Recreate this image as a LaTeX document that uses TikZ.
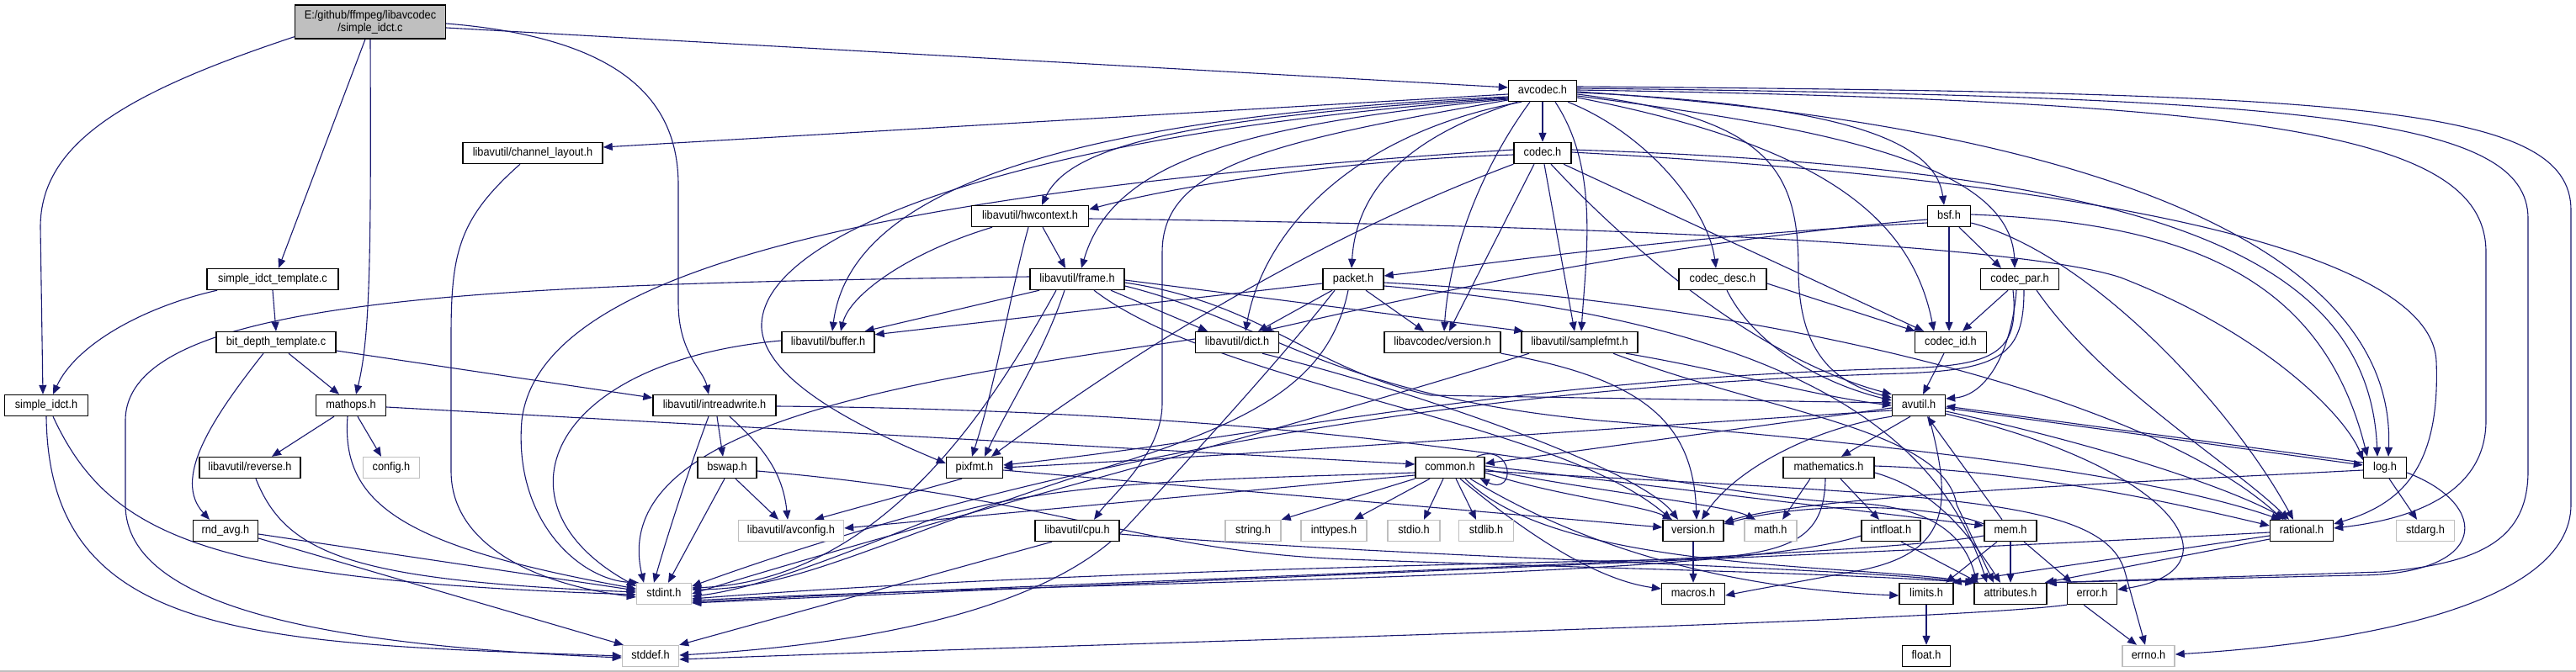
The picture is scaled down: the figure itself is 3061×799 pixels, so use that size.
\documentclass[tikz,border=0pt]{standalone}
\usepackage{fontspec}
\newfontfamily\dfont{Liberation Sans}[FakeStretch=0.91]
\usetikzlibrary{arrows.meta}
\definecolor{edgeblue}{HTML}{191970}
\definecolor{lgray}{HTML}{BFBFBF}
\pgfdeclarelayer{bgl}
\pgfdeclarelayer{edgel}
\pgfsetlayers{bgl,edgel,main}
\begin{document}
\begin{tikzpicture}[x=1pt,y=-1pt,
  nd/.style={draw=black, line width=1.4pt, fill=white, minimum height=25pt, inner sep=0pt,
    font=\dfont\fontsize{14}{16}\selectfont, text height=10pt, text depth=3pt},
  gn/.style={nd, draw=lgray},
  e/.style={draw=edgeblue, line width=1.1pt, -{Triangle[length=11pt,width=9pt]}},
]
\useasboundingbox (0,0) rectangle (3061,799);
\begin{pgfonlayer}{bgl}
\fill[white] (0,0) rectangle (3061,799);
\draw[lgray, line width=1.5pt] (0,798) -- (3061,798);
\end{pgfonlayer}

% ---------------- nodes ----------------
\node[draw=black, line width=1.4pt, fill=lgray, minimum width=179pt, minimum height=40pt, inner sep=0pt,
  align=center, font=\dfont\fontsize{14}{15}\selectfont] (sidc) at (440,26) {E:/github/ffmpeg/libavcodec\\/simple\_idct.c};
\node[nd, minimum width=81pt] (avcodec) at (1833,108) {avcodec.h};
\node[nd, minimum width=166pt] (chlay) at (633,182) {libavutil/channel\_layout.h};
\node[nd, minimum width=68pt] (codec) at (1833,182) {codec.h};
\node[nd, minimum width=139pt] (hwctx) at (1224,257) {libavutil/hwcontext.h};
\node[nd, minimum width=51pt] (bsf) at (2316,257) {bsf.h};
\node[nd, minimum width=156pt] (sitpl) at (324,332) {simple\_idct\_template.c};
\node[nd, minimum width=112pt] (frame) at (1280,332) {libavutil/frame.h};
\node[nd, minimum width=72pt] (packet) at (1608,332) {packet.h};
\node[nd, minimum width=104pt] (cdesc) at (2047,332) {codec\_desc.h};
\node[nd, minimum width=93pt] (cpar) at (2400,332) {codec\_par.h};
\node[nd, minimum width=142pt] (bdt) at (328,407) {bit\_depth\_template.c};
\node[nd, minimum width=110pt] (buffer) at (984,407) {libavutil/buffer.h};
\node[nd, minimum width=99pt] (dict) at (1470,407) {libavutil/dict.h};
\node[nd, minimum width=138pt] (lcver) at (1714,407) {libavcodec/version.h};
\node[nd, minimum width=138pt] (sfmt) at (1877,407) {libavutil/samplefmt.h};
\node[nd, minimum width=85pt] (cid) at (2318,407) {codec\_id.h};
\node[nd, minimum width=99pt] (sih) at (55,482) {simple\_idct.h};
\node[nd, minimum width=83pt] (mathops) at (417,482) {mathops.h};
\node[nd, minimum width=146pt] (irw) at (849,482) {libavutil/intreadwrite.h};
\node[nd, minimum width=63pt] (avutil) at (2280,482) {avutil.h};
\node[nd, minimum width=120pt] (reverse) at (297,556) {libavutil/reverse.h};
\node[gn, minimum width=67pt] (config) at (465,556) {config.h};
\node[nd, minimum width=70pt] (bswap) at (864,556) {bswap.h};
\node[nd, minimum width=67pt] (pixfmt) at (1158,556) {pixfmt.h};
\node[nd, minimum width=82pt] (common) at (1723,556) {common.h};
\node[nd, minimum width=108pt] (mathem) at (2173,556) {mathematics.h};
\node[nd, minimum width=51pt] (log) at (2834,556) {log.h};
\node[nd, minimum width=77pt] (rnd) at (268,631) {rnd\_avg.h};
\node[gn, minimum width=125pt] (avconfig) at (940,631) {libavutil/avconfig.h};
\node[nd, minimum width=100pt] (cpu) at (1280,631) {libavutil/cpu.h};
\node[gn, minimum width=66pt] (string) at (1489,631) {string.h};
\node[gn, minimum width=78pt] (inttypes) at (1585,631) {inttypes.h};
\node[gn, minimum width=62pt] (stdio) at (1680,631) {stdio.h};
\node[gn, minimum width=65pt] (stdlib) at (1766,631) {stdlib.h};
\node[nd, minimum width=72pt] (version) at (2012,631) {version.h};
\node[gn, minimum width=62pt] (math) at (2104,631) {math.h};
\node[nd, minimum width=70pt] (intfloat) at (2247,631) {intfloat.h};
\node[nd, minimum width=62pt] (mem) at (2389,631) {mem.h};
\node[nd, minimum width=75pt] (rational) at (2735,631) {rational.h};
\node[gn, minimum width=69pt] (stdarg) at (2882,631) {stdarg.h};
\node[gn, minimum width=65pt] (stdint) at (789,706) {stdint.h};
\node[nd, minimum width=75pt] (macros) at (2012,706) {macros.h};
\node[nd, minimum width=64pt] (limits) at (2289,706) {limits.h};
\node[nd, minimum width=86pt] (attrib) at (2389,706) {attributes.h};
\node[nd, minimum width=59pt] (error) at (2486,706) {error.h};
\node[gn, minimum width=67pt] (stddef) at (773,780) {stddef.h};
\node[nd, minimum width=57pt] (float) at (2289,780) {float.h};
\node[gn, minimum width=62pt] (errno) at (2553,780) {errno.h};

% ---------------- edges ----------------
\begin{pgfonlayer}{edgel}
% simple_idct.c
\draw[e] ([yshift=-7pt]sidc.east) -- ([yshift=4pt]avcodec.west);
\draw[e] ([yshift=3pt]sidc.south west) .. controls (150,110) and (48,170) .. (48,270) -- ([xshift=-4pt]sih.north);
\draw[e] ([xshift=-6pt]sidc.south) -- ([xshift=7pt]sitpl.north);
\draw[e] (sidc.south) .. controls (441,300) and (440,400) .. ([xshift=6pt]mathops.north);
\draw[e] ([yshift=-2pt]sidc.east) .. controls (740,45) and (806,120) .. (806,220) -- (806,360) .. controls (806,420) and (836,440) .. ([xshift=-7pt]irw.north);
% simple_idct_template.c
\draw[e] ([xshift=-66pt]sitpl.south) .. controls (170,365) and (90,410) .. ([xshift=8pt]sih.north);
\draw[e] (sitpl.south) -- (bdt.north);
% bit_depth_template.c
\draw[e] ([xshift=15pt]bdt.south) -- ([xshift=-14pt]mathops.north);
\draw[e] ([xshift=-15pt]bdt.south) .. controls (250,500) and (205,570) .. ([xshift=-19pt]rnd.north);
\draw[e] ([yshift=-10pt]bdt.east) -- ([yshift=9pt]irw.west);
% simple_idct.h
\draw[e] ([xshift=8pt]sih.south) .. controls (130,640) and (250,690) .. ([yshift=-1pt]stdint.west);
\draw[e] (sih.south) .. controls (58,760) and (300,765) .. (stddef.west);
% mathops.h
\draw[e] ([xshift=-20pt]mathops.south) -- ([xshift=26pt]reverse.north);
\draw[e] ([xshift=8pt]mathops.south) -- ([xshift=-12pt]config.north);
\draw[e] ([xshift=-4pt]mathops.south) .. controls (405,600) and (480,650) .. ([yshift=6pt]stdint.west);
\draw[e] ([yshift=-2pt]mathops.east) -- ([yshift=4pt]common.west);
% reverse.h, rnd_avg.h
\draw[e] ([xshift=7pt]reverse.south) .. controls (340,660) and (420,690) .. ([yshift=2pt]stdint.west);
\draw[e] ([yshift=-4pt]rnd.east) -- ([yshift=4pt]stdint.west);
\draw[e] ([yshift=-9pt]rnd.east) -- ([xshift=2pt]stddef.north west);
% intreadwrite.h
\draw[e] ([xshift=-7pt]irw.south) .. controls (818,560) and (795,630) .. ([xshift=-12pt]stdint.north);
\draw[e] ([xshift=3pt]irw.south) -- ([xshift=-5pt]bswap.north);
\draw[e] ([xshift=18pt]irw.south) .. controls (905,530) and (930,560) .. ([xshift=-4pt]avconfig.north);
\draw[e] ([yshift=-1pt]irw.east) .. controls (1700,490) and (2000,590) .. (2200,598) .. controls (2300,602) and (2335,640) .. ([xshift=4pt]attrib.north west);
% bswap.h
\draw[e] ([xshift=-3pt]bswap.south) -- ([xshift=5pt]stdint.north);
\draw[e] ([xshift=10pt]bswap.south) -- ([xshift=-15pt]avconfig.north);
\draw[e] ([yshift=-4pt]bswap.east) .. controls (1250,590) and (1350,655) .. (1600,665) .. controls (1900,676) and (2150,680) .. ([xshift=1pt]attrib.north west);
% pixfmt.h
\draw[e] ([xshift=-15pt]pixfmt.south) -- ([xshift=28pt]avconfig.north);
\draw[e] ([yshift=-3pt]pixfmt.east) -- ([yshift=4pt]version.west);
% cpu.h
\draw[e] ([xshift=-30pt]cpu.south) -- (stddef.north east);
\draw[e] ([yshift=-4pt]cpu.east) .. controls (1700,665) and (2150,672) .. ([xshift=1pt]attrib.north west);
% buffer.h, dict.h, channel_layout.h
\draw[e] ([yshift=2pt]buffer.west) .. controls (650,430) and (580,600) .. ([yshift=9pt]stdint.west);
\draw[e] ([yshift=4pt]dict.west) .. controls (1100,450) and (720,500) .. ([xshift=-24pt]stdint.north);
\draw[e] ([xshift=30pt]dict.south) .. controls (1700,470) and (1950,560) .. ([xshift=-18pt]version.north);
\draw[e] ([xshift=-15pt]chlay.south) .. controls (545,260) and (536,300) .. (536,400) -- (536,560) .. controls (536,650) and (640,695) .. ([yshift=-4pt]stdint.west);
% hwcontext.h
\draw[e] ([xshift=-45pt]hwctx.south) .. controls (1080,300) and (1010,350) .. ([xshift=15pt]buffer.north);
\draw[e] ([xshift=15pt]hwctx.south) -- ([xshift=-14pt]frame.north);
\draw[e] ([xshift=-2pt]hwctx.south) .. controls (1200,350) and (1185,450) .. ([xshift=-3pt]pixfmt.north);
\draw[e] ([yshift=-3pt]hwctx.east) .. controls (1900,268) and (2400,290) .. (2520,330) .. controls (2700,400) and (2790,500) .. ([yshift=9pt]log.west);
% frame.h
\draw[e] ([yshift=3pt]frame.west) .. controls (600,338) and (149,350) .. (149,500) -- (149,600) .. controls (149,725) and (400,768) .. ([yshift=-2pt]stddef.west);
\draw[e] ([xshift=-25pt]frame.south) .. controls (1180,480) and (1050,690) .. ([yshift=7pt]stdint.east);
\draw[e] ([xshift=-45pt]frame.south) -- ([xshift=-12pt]buffer.north east);
\draw[e] ([xshift=40pt]frame.south) -- ([xshift=-35pt]dict.north);
\draw[e] ([yshift=-4pt]frame.east) .. controls (1500,360) and (1560,440) .. (1700,470) -- ([yshift=3pt]avutil.west);
\draw[e] ([yshift=-8pt]frame.east) .. controls (1500,380) and (1580,470) .. (1900,500) .. controls (2400,540) and (2600,580) .. ([xshift=-25pt]rational.north);
\draw[e] ([yshift=-1pt]frame.east) -- ([xshift=3pt]sfmt.north west);
\draw[e] ([xshift=-15pt]frame.south) .. controls (1240,420) and (1200,480) .. ([xshift=12pt]pixfmt.north);
\draw[e] ([xshift=20pt]frame.south) .. controls (1450,460) and (1850,500) .. ([xshift=-26pt]version.north);
% packet.h
\draw[e] ([xshift=-22pt]packet.south) .. controls (1520,430) and (1400,560) .. (1340,625) .. controls (1250,720) and (1050,765) .. ([yshift=1pt]stddef.east);
\draw[e] ([xshift=-6pt]packet.south) .. controls (1580,450) and (1500,500) .. (1300,560) .. controls (1050,640) and (950,700) .. ([yshift=5pt]stdint.east);
\draw[e] ([yshift=-5pt]packet.west) -- ([yshift=-4pt]buffer.north east);
\draw[e] ([xshift=-25pt]packet.south) -- ([xshift=25pt]dict.north);
\draw[e] ([yshift=-4pt]packet.east) .. controls (2100,360) and (2550,470) .. ([xshift=-22pt]rational.north);
\draw[e] ([yshift=-8pt]packet.east) .. controls (2100,380) and (2300,500) .. ([xshift=-28pt]attrib.north);
\draw[e] ([xshift=15pt]packet.south) -- ([xshift=-22pt]lcver.north);
% codec_desc.h, codec_par.h, codec_id.h
\draw[e] ([xshift=5pt]cdesc.south) .. controls (2090,420) and (2180,460) .. ([yshift=6pt]avutil.west);
\draw[e] ([yshift=-5pt]cdesc.east) -- ([xshift=1pt]cid.north west);
\draw[e] ([xshift=-14pt]cpar.south) -- ([xshift=14pt]cid.north);
\draw[e] ([xshift=-4pt]cpar.south) .. controls (2390,420) and (2360,470) .. ([yshift=8pt]avutil.east);
\draw[e] ([xshift=5pt]cpar.south) .. controls (2405,420) and (2380,440) .. (2260,444) .. controls (1700,460) and (1200,560) .. ([yshift=9pt]stdint.east);
\draw[e] ([xshift=20pt]cpar.south) .. controls (2500,460) and (2650,550) .. ([xshift=-15pt]rational.north);
\draw[e] ([xshift=-8pt]cpar.south) .. controls (2400,420) and (2370,435) .. (2260,438) .. controls (1800,450) and (1500,520) .. ([yshift=3pt]pixfmt.east);
\draw[e] ([xshift=-8pt]cid.south) -- ([xshift=5pt]avutil.north);
% libavcodec/version.h
\draw[e] (lcver.south east) .. controls (1950,450) and (2012,500) .. ([xshift=4pt]version.north);
% samplefmt.h
\draw[e] ([xshift=-60pt]sfmt.south) .. controls (1500,520) and (1100,620) .. (stdint.east);
\draw[e] ([xshift=55pt]sfmt.south) .. controls (2050,440) and (2150,470) .. (avutil.west);
\draw[e] ([xshift=40pt]sfmt.south) .. controls (2100,490) and (2310,510) .. (2325,600) -- ([xshift=-20pt]attrib.north);
% avutil.h
\draw[e] ([yshift=-3pt]avutil.west) -- ([yshift=5pt]common.east);
\draw[e] ([yshift=-10pt]avutil.east) .. controls (2600,560) and (2660,680) .. ([yshift=5pt]error.east);
\draw[e] ([yshift=-7pt]avutil.east) .. controls (2500,530) and (2650,580) .. ([xshift=-18pt]rational.north);
\draw[e] (avutil.south west) .. controls (2150,510) and (2060,560) .. ([xshift=10pt]version.north);
\draw[e] ([xshift=12pt]avutil.south) .. controls (2320,600) and (2320,660) .. (2200,680) .. controls (2120,695) and (2090,700) .. ([yshift=-2pt]macros.east);
\draw[e] ([xshift=-10pt]avutil.south) -- ([xshift=15pt]mathem.north);
\draw[e] ([yshift=-3pt]avutil.east) -- ([yshift=3pt]log.west);
\draw[e] ([yshift=6pt]log.west) -- ([yshift=-1pt]avutil.east);
\draw[e] ([yshift=-6pt]avutil.west) .. controls (1900,510) and (1500,540) .. (pixfmt.east);
% common.h
\draw[e] ([xshift=-10pt]common.north east) .. controls (1798,525) and (1803,590) .. ([xshift=-6pt]common.south east);
\draw[e] (common.south west) -- (string.north east);
\draw[e] ([xshift=-24pt]common.south) -- ([xshift=24pt]inttypes.north);
\draw[e] ([xshift=-8pt]common.south) -- ([xshift=12pt]stdio.north);
\draw[e] ([xshift=7pt]common.south) -- ([xshift=-12pt]stdlib.north);
\draw[e] ([yshift=-6pt]common.west) .. controls (1450,570) and (1250,570) .. (1100,620) .. controls (1000,660) and (900,700) .. ([yshift=-3pt]stdint.east);
\draw[e] ([yshift=-9pt]common.west) -- ([yshift=3pt]avconfig.east);
\draw[e] ([yshift=-2pt]common.east) .. controls (1900,585) and (2050,600) .. ([xshift=-18pt]math.north);
\draw[e] ([yshift=-6pt]common.east) .. controls (1850,590) and (1950,600) .. ([xshift=-25pt]version.north);
\draw[e] ([yshift=2pt]common.east) -- ([yshift=6pt]mem.west);
\draw[e] ([xshift=24pt]common.south) .. controls (1880,650) and (2050,700) .. ([yshift=-2pt]limits.west);
\draw[e] ([xshift=18pt]common.south) .. controls (1850,680) and (2200,670) .. ([xshift=3pt]attrib.north west);
\draw[e] ([yshift=-4pt]common.east) .. controls (2300,590) and (2500,590) .. (2525,680) -- ([xshift=-4pt]errno.north);
\draw[e] ([xshift=12pt]common.south) .. controls (1820,640) and (1900,690) .. ([yshift=6pt]macros.west);
% mathematics.h
\draw[e] ([xshift=-22pt]mathem.south) -- ([xshift=14pt]math.north);
\draw[e] ([xshift=14pt]mathem.south) -- ([xshift=-14pt]intfloat.north);
\draw[e] ([xshift=-4pt]mathem.south) .. controls (2168,640) and (2130,660) .. (2000,665) .. controls (1500,675) and (1100,690) .. ([yshift=-6pt]stdint.east);
\draw[e] ([yshift=-6pt]mathem.east) .. controls (2290,580) and (2330,620) .. ([xshift=-12pt]attrib.north);
\draw[e] ([yshift=2pt]mathem.east) .. controls (2400,560) and (2550,590) .. ([yshift=6pt]rational.west);
% intfloat.h
\draw[e] ([yshift=-6pt]intfloat.west) .. controls (2050,690) and (1300,690) .. ([yshift=-8pt]stdint.east);
\draw[e] ([xshift=12pt]intfloat.south) -- ([xshift=6pt]attrib.north west);
% version.h
\draw[e] (version.south) -- (macros.north);
% mem.h
\draw[e] ([xshift=-16pt]mem.south) -- ([xshift=23pt]limits.north);
\draw[e] (mem.south) -- (attrib.north);
\draw[e] ([xshift=16pt]mem.south) -- ([xshift=-24pt]error.north);
\draw[e] ([xshift=-10pt]mem.north) -- ([xshift=10pt]avutil.south);
\draw[e] ([yshift=-6pt]mem.west) .. controls (2200,665) and (1300,690) .. ([yshift=-10pt]stdint.east);
\draw[e] ([yshift=8pt]mem.west) .. controls (2300,600) and (2150,595) .. ([yshift=8pt]version.east);
% rational.h
\draw[e] ([yshift=-2pt]rational.west) .. controls (2300,655) and (1300,695) .. ([yshift=-11pt]stdint.east);
\draw[e] ([yshift=-6pt]rational.west) -- ([xshift=-2pt]limits.north east);
\draw[e] ([yshift=-10pt]rational.west) -- ([xshift=-3pt]attrib.north east);
% log.h
\draw[e] ([xshift=5pt]log.south) -- ([xshift=-10pt]stdarg.north);
\draw[e] ([yshift=-3pt]log.west) .. controls (2500,575) and (2150,590) .. ([yshift=10pt]version.east);
\draw[e] ([yshift=-6pt]log.east) .. controls (2960,600) and (2960,684) .. (2800,684) -- (attrib.north east);
% error.h, limits.h
\draw[e] ([xshift=-10pt]error.south) -- ([xshift=-14pt]errno.north);
\draw[e] (error.south west) .. controls (2300,740) and (1300,765) .. ([yshift=-4pt]stddef.east);
\draw[e] (limits.south) -- (float.north);
% codec.h
\draw[e] ([yshift=4pt]codec.west) .. controls (1000,230) and (640,330) .. (620,500) .. controls (610,620) and (690,690) .. ([xshift=-30pt]stdint.north);
\draw[e] ([yshift=-2pt]codec.west) .. controls (1600,190) and (1400,220) .. ([yshift=8pt]hwctx.east);
\draw[e] (codec.south west) .. controls (1600,270) and (1400,380) .. ([xshift=20pt]pixfmt.north);
\draw[e] ([xshift=-10pt]codec.south) -- ([xshift=8pt]lcver.north);
\draw[e] ([xshift=2pt]codec.south) -- ([xshift=-6pt]sfmt.north);
\draw[e] ([xshift=10pt]codec.south) .. controls (1950,310) and (2100,430) .. (avutil.north west);
\draw[e] ([xshift=25pt]codec.south) -- ([xshift=-32pt]cid.north);
\draw[e] ([yshift=4pt]codec.east) .. controls (2550,200) and (2815,300) .. ([xshift=-9pt]log.north);
\draw[e] ([yshift=1pt]codec.east) .. controls (2500,215) and (2890,300) .. (2895,430) .. controls (2900,560) and (2850,600) .. ([yshift=8pt]rational.east);
% bsf.h
\draw[e] ([yshift=-4pt]bsf.west) .. controls (1950,290) and (1650,360) .. ([xshift=30pt]dict.north);
\draw[e] ([yshift=-8pt]bsf.west) .. controls (2000,280) and (1800,310) .. ([yshift=4pt]packet.east);
\draw[e] (bsf.south) -- ([xshift=-2pt]cid.north);
\draw[e] ([xshift=12pt]bsf.south) -- ([xshift=-22pt]cpar.north);
\draw[e] ([yshift=2pt]bsf.east) .. controls (2600,265) and (2760,330) .. ([xshift=-21pt]log.north);
\draw[e] ([yshift=-8pt]bsf.east) .. controls (2480,300) and (2650,480) .. ([xshift=-10pt]rational.north);
% avcodec.h
\draw[e] ([yshift=-4pt]avcodec.west) -- ([yshift=7pt]chlay.east);
\draw[e] ([yshift=-8pt]avcodec.west) .. controls (1400,140) and (1270,175) .. ([xshift=14pt]hwctx.north);
\draw[e] ([yshift=-10pt]avcodec.west) .. controls (1450,150) and (1320,200) .. ([xshift=5pt]frame.north);
\draw[e] ([yshift=-7pt]avcodec.west) .. controls (1250,140) and (1010,230) .. ([xshift=5pt]buffer.north);
\draw[e] ([yshift=-9pt]avcodec.west) .. controls (1200,160) and (900,280) .. (905,390) .. controls (910,460) and (1050,520) .. ([yshift=5pt]pixfmt.west);
\draw[e] ([yshift=-11pt]avcodec.west) .. controls (1500,170) and (1381,200) .. (1381,300) -- (1381,480) .. controls (1381,540) and (1320,590) .. ([xshift=20pt]cpu.north);
\draw[e] ([xshift=-25pt]avcodec.south) .. controls (1600,160) and (1500,280) .. ([xshift=10pt]dict.north);
\draw[e] ([xshift=-30pt]avcodec.south) .. controls (1680,160) and (1612,220) .. ([xshift=-2pt]packet.north);
\draw[e] ([xshift=-15pt]avcodec.south) .. controls (1760,200) and (1722,300) .. ([xshift=2pt]lcver.north);
\draw[e] (avcodec.south) -- (codec.north);
\draw[e] ([xshift=15pt]avcodec.south) .. controls (1900,200) and (1885,300) .. ([xshift=2pt]sfmt.north);
\draw[e] ([xshift=30pt]avcodec.south) .. controls (1960,160) and (2030,250) .. ([xshift=-8pt]cdesc.north);
\draw[e] ([yshift=-4pt]avcodec.east) .. controls (2100,140) and (2137,200) .. (2137,320) .. controls (2137,420) and (2180,455) .. ([yshift=9pt]avutil.west);
\draw[e] ([yshift=-2pt]avcodec.east) .. controls (2200,125) and (2300,170) .. ([xshift=-6pt]bsf.north);
\draw[e] ([yshift=-6pt]avcodec.east) .. controls (2150,150) and (2390,190) .. ([xshift=-6pt]cpar.north);
\draw[e] ([yshift=-8pt]avcodec.east) .. controls (2150,170) and (2270,250) .. ([xshift=-20pt]cid.north);
\draw[e] ([yshift=-1pt]avcodec.east) .. controls (2500,150) and (2848,300) .. ([xshift=4pt]log.north);
\draw[e] ([yshift=1pt]avcodec.east) .. controls (2700,120) and (2954,160) .. (2954,300) -- (2954,500) .. controls (2954,590) and (2860,618) .. ([yshift=3pt]rational.east);
\draw[e] ([yshift=3pt]avcodec.east) .. controls (2750,115) and (3004,140) .. (3004,260) -- (3004,560) .. controls (3004,640) and (2950,670) .. (2830,680) -- ([xshift=-1pt]attrib.north east);
\draw[e] ([yshift=5pt]avcodec.east) .. controls (2800,110) and (3055,125) .. (3055,250) -- (3055,600) .. controls (3055,720) and (2800,765) .. ([yshift=2pt]errno.east);
\end{pgfonlayer}
\end{tikzpicture}
\end{document}
